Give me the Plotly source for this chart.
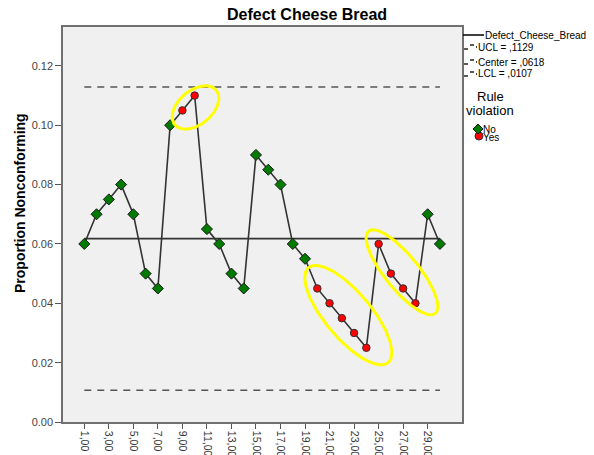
import numpy as np
import plotly.graph_objects as go

# ---------------- data ----------------
samples = list(range(1, 31))
proportions = [0.060, 0.070, 0.075, 0.080, 0.070, 0.050, 0.045, 0.100, 0.105, 0.110,
               0.065, 0.060, 0.050, 0.045, 0.090, 0.085, 0.080, 0.060, 0.055, 0.045,
               0.040, 0.035, 0.030, 0.025, 0.060, 0.050, 0.045, 0.040, 0.070, 0.060]
violation = ["No"] * 8 + ["Yes", "Yes"] + ["No"] * 9 + ["Yes"] * 9 + ["No", "No"]
ucl = 0.1129
center = 0.0618
lcl = 0.0107
tick_values = list(range(1, 31, 2))
tick_labels = [f"{v},00" for v in tick_values]
y_ticks = [0.00, 0.02, 0.04, 0.06, 0.08, 0.10, 0.12]
highlight_groups = [[9, 10], [20, 21, 22, 23, 24], [25, 26, 27, 28]]

# ---------------- layout geometry (page pixels) ----------------
PAGE_W, PAGE_H = 594, 455
OFF = 8  # default body margin of the html page
W, H = PAGE_W - OFF, PAGE_H - OFF
L, R, T, B = 63, 462, 27, 422
xmin, xmax = -0.737, 31.80
ymin, ymax = 0.0, 0.1331
sx = (R - L) / (xmax - xmin)
sy = (B - T) / (ymax - ymin)

def px_to_data(px, py):
    return xmin + (px - L) / sx, ymin + (B - py) / sy

def data_to_px(x, y):
    return L + (x - xmin) * sx, B - (y - ymin) * sy

def pp(px, py):
    """page pixel -> paper"""
    return (px - L) / (R - L), (B - py) / (B - T)

fig = go.Figure()

# reference lines
for val in [ucl, lcl]:
    fig.add_trace(go.Scatter(x=[samples[0], samples[-1]], y=[val, val], mode="lines",
                             line=dict(color="#555555", width=1.6, dash="7px,6px"),
                             hoverinfo="skip", showlegend=False))
fig.add_trace(go.Scatter(x=[samples[0], samples[-1]], y=[center, center], mode="lines",
                         line=dict(color="#333333", width=1.6),
                         hoverinfo="skip", showlegend=False))

# data line
fig.add_trace(go.Scatter(x=samples, y=proportions, mode="lines",
                         line=dict(color="#333333", width=1.6), showlegend=False))

# markers
xs_no = [s for s, v in zip(samples, violation) if v == "No"]
ys_no = [p for p, v in zip(proportions, violation) if v == "No"]
xs_yes = [s for s, v in zip(samples, violation) if v == "Yes"]
ys_yes = [p for p, v in zip(proportions, violation) if v == "Yes"]
fig.add_trace(go.Scatter(x=xs_no, y=ys_no, mode="markers",
                         marker=dict(symbol="diamond", size=8.5, color="#007a00",
                                     line=dict(color="#1a1a1a", width=1)), showlegend=False))
fig.add_trace(go.Scatter(x=xs_yes, y=ys_yes, mode="markers",
                         marker=dict(symbol="circle", size=7.5, color="#ff0000",
                                     line=dict(color="#333333", width=1)), showlegend=False))

# highlight ellipses (style: semi-axes px, angle deg, offset px)
ellipse_style = [(27, 17, 40, 7, 4.5), (62, 23, -50, 6.5, -3), (53, 17, -51, 5, -5)]
t = np.linspace(0, 2 * np.pi, 200)
for grp, (a, b, ang, ox, oy) in zip(highlight_groups, ellipse_style):
    gx = np.mean([samples[i - 1] for i in grp])
    gy = np.mean([proportions[i - 1] for i in grp])
    cx, cy = data_to_px(gx, gy)
    cx += ox
    cy += oy
    th = np.deg2rad(ang)
    ex = a * np.cos(t)
    ey = b * np.sin(t)
    rx = cx + ex * np.cos(th) + ey * np.sin(th)
    ry = cy - ex * np.sin(th) + ey * np.cos(th)
    dx, dy = px_to_data(rx, ry)
    fig.add_trace(go.Scatter(x=dx, y=dy, mode="lines",
                             line=dict(color="#ffff00", width=3),
                             hoverinfo="skip", showlegend=False))

# ---------------- axes ----------------
fig.update_xaxes(range=[xmin, xmax], tickmode="array", tickvals=tick_values,
                 ticktext=tick_labels, tickangle=90, ticks="outside", ticklen=5,
                 tickcolor="#555555", tickwidth=1.3, automargin=False,
                 showgrid=False, zeroline=False, showline=True, mirror=True,
                 linecolor="#707070", linewidth=1.5,
                 tickfont=dict(family="Liberation Sans, Arial", size=10.5, color="#333333"))
fig.update_yaxes(range=[ymin, ymax], tickmode="array", tickvals=y_ticks,
                 tickformat=".2f", ticks="outside", ticklen=6,
                 tickcolor="#555555", tickwidth=1.3, automargin=False,
                 showgrid=False, zeroline=False, showline=True, mirror=True,
                 linecolor="#707070", linewidth=1.5,
                 tickfont=dict(family="Liberation Sans, Arial", size=11, color="#444444"))

annotations = []
shapes = []
font = "Liberation Sans, Arial"

# title
x0, y0 = pp(307, 14)
annotations.append(dict(x=x0, y=y0, xref="paper", yref="paper", text="<b>Defect Cheese Bread</b>",
                        showarrow=False, xanchor="center", yanchor="middle",
                        font=dict(family=font, size=16, color="#000000")))
# y title
x0, y0 = pp(20, 203)
annotations.append(dict(x=x0, y=y0, xref="paper", yref="paper", text="<b>Proportion Nonconforming</b>",
                        showarrow=False, textangle=-90, xanchor="center", yanchor="middle",
                        font=dict(family=font, size=14, color="#000000")))

# legend
legend_items = ["Defect_Cheese_Bread", f"UCL = ,{str(ucl)[2:]}",
                f"Center = ,{str(center)[2:]}", f"LCL = ,{str(lcl)[2:]}"]
leg_y = [35, 47, 62, 74]
for i, (txt, ly) in enumerate(zip(legend_items, leg_y)):
    if i == 0:
        a0 = pp(463, ly); a1 = pp(484, ly)
        shapes.append(dict(type="line", xref="paper", yref="paper", x0=a0[0], y0=a0[1],
                           x1=a1[0], y1=a1[1], line=dict(color="#000000", width=1.5)))
        tx = 484
    else:
        for (p0, p1, dyy) in [(464, 468, 2), (470, 474, -2), (476, 477, 0)]:
            a0 = pp(p0, ly + dyy); a1 = pp(p1, ly + dyy)
            shapes.append(dict(type="line", xref="paper", yref="paper", x0=a0[0], y0=a0[1],
                               x1=a1[0], y1=a1[1], line=dict(color="#000000", width=1.3)))
        tx = 477
    x0, y0 = pp(tx, ly)
    annotations.append(dict(x=x0, y=y0, xref="paper", yref="paper", text=txt, showarrow=False,
                            xanchor="left", yanchor="middle", borderpad=0,
                            font=dict(family=font, size=10, color="#000000")))

for txt, ly in [("Rule", 97), ("violation", 110)]:
    x0, y0 = pp(490, ly)
    annotations.append(dict(x=x0, y=y0, xref="paper", yref="paper", text=txt, showarrow=False,
                            xanchor="center", yanchor="middle", borderpad=0,
                            font=dict(family=font, size=13, color="#000000")))

# legend symbols
c0 = pp(475, 140); c1 = pp(483, 132)
shapes.append(dict(type="circle", xref="paper", yref="paper", x0=c0[0], y0=c0[1], x1=c1[0], y1=c1[1],
                   fillcolor="#ff0000", line=dict(color="#333333", width=1)))
cxp, cyp = 478, 129
pts = [pp(cxp, cyp - 5), pp(cxp + 5, cyp), pp(cxp, cyp + 5), pp(cxp - 5, cyp)]
path = "M " + " L ".join(f"{p[0]:.5f},{p[1]:.5f}" for p in pts) + " Z"
shapes.append(dict(type="path", xref="paper", yref="paper", path=path,
                   fillcolor="#007a00", line=dict(color="#1a1a1a", width=1)))
for txt, ly in [("No", 129), ("Yes", 137)]:
    x0, y0 = pp(482, ly)
    annotations.append(dict(x=x0, y=y0, xref="paper", yref="paper", text=txt, showarrow=False,
                            xanchor="left", yanchor="middle", borderpad=0,
                            font=dict(family=font, size=10, color="#000000")))

fig.update_layout(width=W, height=H,
                  margin=dict(l=L - OFF, r=W - (R - OFF), t=T - OFF, b=H - (B - OFF),
                              pad=0, autoexpand=False),
                  plot_bgcolor="#f0f0f0", paper_bgcolor="#ffffff",
                  showlegend=False, annotations=annotations, shapes=shapes,
                  font=dict(family=font))

fig.write_html("out.html")
